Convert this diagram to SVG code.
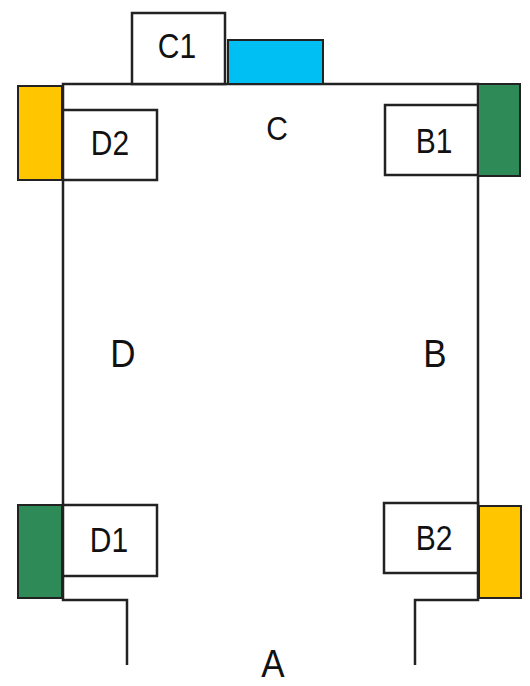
<svg xmlns="http://www.w3.org/2000/svg" width="530" height="686" viewBox="0 0 530 686">
<style>
.box{fill:#fff;stroke:#222;stroke-width:2.5}
.y{fill:#FFC600;stroke:#222;stroke-width:2}
.g{fill:#2E8B57;stroke:#222;stroke-width:2}
.bl{fill:#00BFF3;stroke:#222;stroke-width:2}
.ln{fill:none;stroke:#222;stroke-width:2.5}
text{font-family:"Liberation Sans",Arial,sans-serif;fill:#111;text-anchor:middle}
.s{font-size:30px}
.l{font-size:35px}
</style>
<rect width="530" height="686" fill="#fff"/>
<g id="connectors">
<polyline class="ln" points="127,665 127,600 63,600 63,84 478,84 478,600 415,600 415,665"/>
</g>
<g id="C1"><rect class="box" x="132" y="13" width="93" height="71"/><text class="s" transform="translate(177,58) scale(1,1.15)">C1</text></g>
<g id="blue"><rect class="bl" x="228" y="40" width="95" height="44"/></g>
<g id="yellowTL"><rect class="y" x="18" y="86" width="44" height="94"/></g>
<g id="D2"><rect class="box" x="63" y="110" width="94" height="70"/><text class="s" transform="translate(110,155) scale(1,1.15)">D2</text></g>
<g id="C"><text class="s" transform="translate(277,140) scale(1,1.1)">C</text></g>
<g id="B1"><rect class="box" x="385" y="105" width="93" height="70"/><text class="s" transform="translate(434,153) scale(1,1.15)">B1</text></g>
<g id="greenTR"><rect class="g" x="478" y="84" width="42" height="92"/></g>
<g id="D"><text class="l" transform="translate(123,367) scale(1,1.12)">D</text></g>
<g id="B"><text class="l" transform="translate(435,367) scale(1,1.12)">B</text></g>
<g id="greenBL"><rect class="g" x="18" y="505" width="44" height="93"/></g>
<g id="D1"><rect class="box" x="63" y="505" width="94" height="71"/><text class="s" transform="translate(109,552) scale(1,1.15)">D1</text></g>
<g id="B2"><rect class="box" x="384" y="503" width="94" height="70"/><text class="s" transform="translate(434,550) scale(1,1.15)">B2</text></g>
<g id="yellowBR"><rect class="y" x="479" y="506" width="42" height="92"/></g>
<g id="A"><text class="l" transform="translate(273,677) scale(1,1.12)">A</text></g>
</svg>
